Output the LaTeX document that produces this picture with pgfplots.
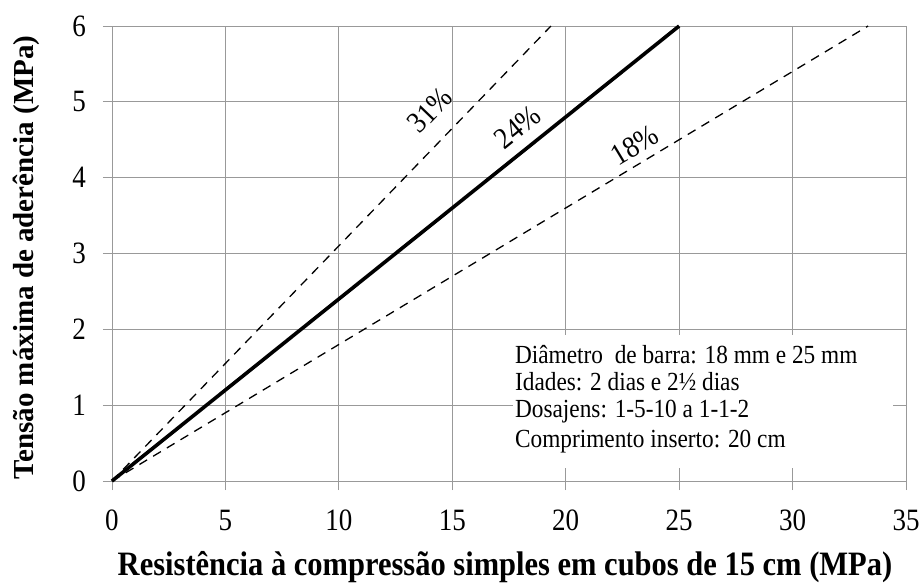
\documentclass[border=0pt]{standalone}
\usepackage{pgfplots}
\pgfplotsset{compat=1.18}
\usepackage{graphicx}
\usepackage{fontspec}
\setmainfont{Liberation Serif}
\newcommand{\tk}{\fontsize{27}{30}\selectfont}
\newcommand{\bx}[1]{\scalebox{1}[1.12]{\fontsize{23.3}{28}\selectfont #1}}
\begin{document}
\begin{tikzpicture}
\begin{axis}[
  name=ax,
  scale only axis,
  width=794pt, height=455pt,
  xmin=0, xmax=35, ymin=0, ymax=6,
  xtick={0,5,...,35}, ytick={0,1,...,6},
  grid=major,
  grid style={draw=black!40, line width=0.8pt},
  axis line style={draw=black!40, line width=0.8pt},
  tick style={draw=black!40, line width=0.8pt},
  tick align=outside, tick pos=left,
  major tick length=9pt,
  /pgf/number format/assume math mode=true,
  xticklabel={\scalebox{1}[1.15]{\tk\pgfmathprintnumber{\tick}}},
  yticklabel={\scalebox{1}[1.15]{\tk\pgfmathprintnumber{\tick}}},
  xticklabel style={inner sep=0pt, anchor=north, yshift=-20pt},
  yticklabel style={inner sep=0pt, anchor=east},
  yticklabel shift=17pt,
  xlabel={\scalebox{1}[1.12]{\fontsize{30.5}{34}\selectfont\bfseries Resistência à compressão simples em cubos de 15 cm (MPa)}},
  ylabel={\fontsize{29}{32}\selectfont\bfseries Tensão máxima de aderência (MPa)},
  xlabel style={at={([xshift=-4pt,yshift=-94pt]axis description cs:0.5,0)}, anchor=base, inner sep=0pt},
  ylabel style={at={([xshift=-86pt,yshift=-4pt]axis description cs:0,0.5)}, anchor=center, inner sep=0pt},
  clip=false,
]
\fill[white] (axis cs:17.67,0.17) rectangle (axis cs:34.42,1.925);
\addplot[black, line width=1.3pt, dash pattern=on 9pt off 7pt] coordinates {(0,0) (19.35,6)};
\addplot[black, line width=3.6pt] coordinates {(0,0) (25,6)};
\addplot[black, line width=1.3pt, dash pattern=on 9pt off 7pt] coordinates {(0,0) (33.33,6)};
\node[rotate=46, inner sep=0pt] at (axis cs:14.01,4.89) {\scalebox{1}[1.12]{\tk 31\%}};
\node[rotate=39, inner sep=0pt] at (axis cs:17.89,4.67) {\scalebox{1}[1.12]{\tk 24\%}};
\node[rotate=31, inner sep=0pt] at (axis cs:23.05,4.43) {\scalebox{1}[1.12]{\tk 18\%}};
\node[anchor=base west, inner sep=0pt] at (axis cs:17.76,1.556) {\bx{Diâmetro\ \ de barra: 18 mm e 25 mm}};
\node[anchor=base west, inner sep=0pt] at (axis cs:17.76,1.200) {\bx{Idades: 2 dias e 2½ dias}};
\node[anchor=base west, inner sep=0pt] at (axis cs:17.76,0.831) {\bx{Dosajens: 1-5-10 a 1-1-2}};
\node[anchor=base west, inner sep=0pt] at (axis cs:17.76,0.448) {\bx{Comprimento inserto: 20 cm}};
\end{axis}
\path ([shift={(-112pt,-100pt)}]ax.south west) (ax.south west);
\path ([shift={(18pt,26pt)}]ax.north east) (ax.north east);
\end{tikzpicture}
\end{document}
